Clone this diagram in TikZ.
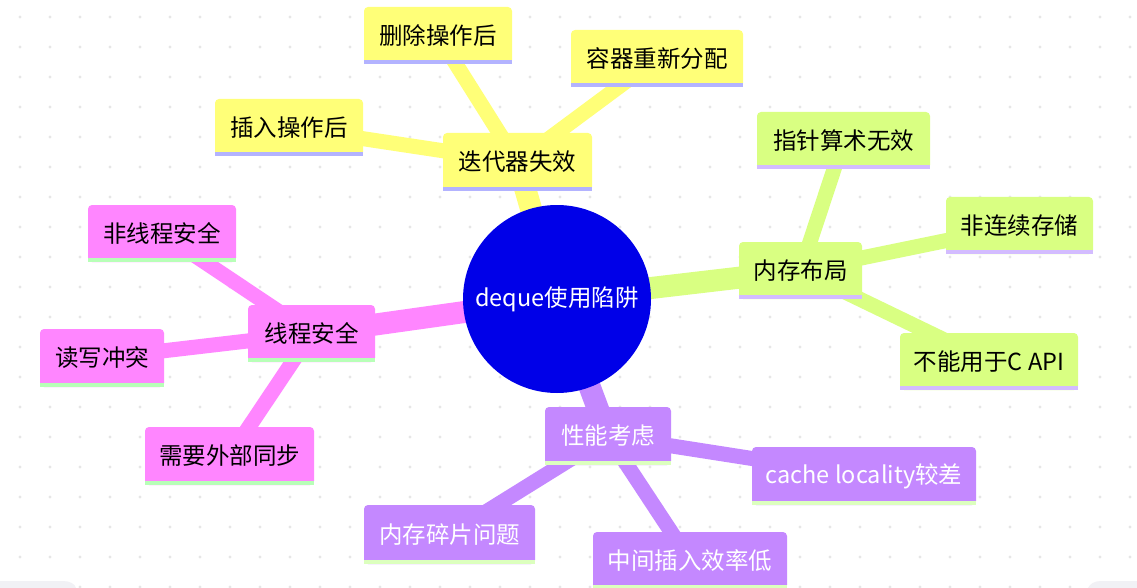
\documentclass[tikz,border=0pt]{standalone}
\usepackage{fontspec}
\setmainfont{Noto Sans CJK SC}
\pgfdeclarelayer{dots}
\pgfdeclarelayer{edges}
\pgfsetlayers{dots,edges,main}
\definecolor{rootc}{HTML}{0000E8}
\definecolor{yelc}{HTML}{FFFF78}
\definecolor{yelu}{HTML}{B3B3FF}
\definecolor{grnc}{HTML}{D9FF82}
\definecolor{grnu}{HTML}{D3BCFF}
\definecolor{purc}{HTML}{C488FF}
\definecolor{puru}{HTML}{DCFFBE}
\definecolor{pnkc}{HTML}{FF86FF}
\definecolor{pnku}{HTML}{B8FFB8}
\definecolor{dotc}{HTML}{E6E6E6}
\definecolor{cornerc}{HTML}{F1F1F5}
\tikzset{
  mm/.style={rectangle, rounded corners=4pt, minimum height=57pt, inner sep=0pt,
    font=\fontsize{23.5}{27}\selectfont},
  ybox/.style={mm, fill=yelc, text=black},
  gbox/.style={mm, fill=grnc, text=black},
  pbox/.style={mm, fill=purc, text=white},
  kbox/.style={mm, fill=pnkc, text=black},
  rootedge/.style={line width=22pt},
  childedge/.style={line width=15pt},
}
\begin{document}
\begin{tikzpicture}[x=1pt,y=-1pt]
\useasboundingbox (0,0) rectangle (1137,588);
\begin{pgfonlayer}{dots}
\fill[white] (0,0) rectangle (1137,588);
\foreach \i in {0,...,37} \foreach \j in {0,...,19} \fill[dotc] (20+30*\i,17+30*\j) circle (1.6);
\fill[cornerc] (0,588) -- (0,581) -- (63,581) .. controls (70,581) and (75,584) .. (76,588) -- cycle;
\fill[cornerc] (1137,588) -- (1137,581) -- (1101,581) .. controls (1094,581) and (1090,584) .. (1088,588) -- cycle;
\end{pgfonlayer}

% root
\node[circle, fill=rootc, minimum size=188pt, inner sep=0pt, text=white,
  font=\fontsize{23.5}{27}\selectfont] (root) at (557,299) {deque使用陷阱};

% yellow section
\node[ybox, minimum width=149pt, minimum height=58pt] (it) at (517.5,162) {迭代器失效};
\node[ybox, minimum width=148pt] (del) at (438,35.5) {删除操作后};
\node[ybox, minimum width=172pt] (realloc) at (657,58.5) {容器重新分配};
\node[ybox, minimum width=148pt] (ins) at (289,127.5) {插入操作后};

% green section
\node[gbox, minimum width=123pt] (mem) at (800.5,270.5) {内存布局};
\node[gbox, minimum width=173pt] (ptr) at (843.5,140.5) {指针算术无效};
\node[gbox, minimum width=147pt] (noncont) at (1019.5,225.5) {非连续存储};
\node[gbox, minimum width=178pt] (capi) at (989,361.5) {不能用于C API};

% pink section
\node[kbox, minimum width=127pt] (ts) at (311.5,333.5) {线程安全};
\node[kbox, minimum width=148pt] (nts) at (162,233.5) {非线程安全};
\node[kbox, minimum width=124pt, minimum height=58pt] (rw) at (102,358) {读写冲突};
\node[kbox, minimum width=169pt, minimum height=58pt] (sync) at (229.5,456) {需要外部同步};

% purple section
\node[pbox, minimum width=126pt, minimum height=58pt] (perf) at (608,436) {性能考虑};
\node[pbox, minimum width=224pt, minimum height=58pt] (cache) at (864,476) {cache locality较差};
\node[pbox, minimum width=171pt, minimum height=59pt] (frag) at (449.5,534.5) {内存碎片问题};
\node[pbox, minimum width=194pt] (mid) at (690,560.5) {中间插入效率低};

% underlines
\foreach \n/\c in {it/yelu,del/yelu,realloc/yelu,ins/yelu,
  mem/grnu,ptr/grnu,noncont/grnu,capi/grnu,
  ts/pnku,nts/pnku,rw/pnku,sync/pnku,
  perf/puru,cache/puru,frag/puru,mid/puru}
  \fill[\c] (\n.south west) rectangle ([yshift=4pt]\n.south east);

% edges
\begin{pgfonlayer}{edges}
\draw[rootedge, yelc] (root.center) -- (it.center);
\draw[rootedge, grnc] (root.center) -- (mem.center);
\draw[rootedge, pnkc] (root.center) -- (ts.center);
\draw[rootedge, purc] (root.center) -- (perf.center);
\draw[childedge, yelc] (it.center) -- (del.center);
\draw[childedge, yelc] (it.center) -- (realloc.center);
\draw[childedge, yelc] (it.center) -- (ins.center);
\draw[childedge, grnc] (mem.center) -- (ptr.center);
\draw[childedge, grnc] (mem.center) -- (noncont.center);
\draw[childedge, grnc] (mem.center) -- (capi.center);
\draw[childedge, pnkc] (ts.center) -- (nts.center);
\draw[childedge, pnkc] (ts.center) -- (rw.center);
\draw[childedge, pnkc] (ts.center) -- (sync.center);
\draw[childedge, purc] (perf.center) -- (cache.center);
\draw[childedge, purc] (perf.center) -- (frag.center);
\draw[childedge, purc] (perf.center) -- (mid.center);
\end{pgfonlayer}
\end{tikzpicture}
\end{document}
